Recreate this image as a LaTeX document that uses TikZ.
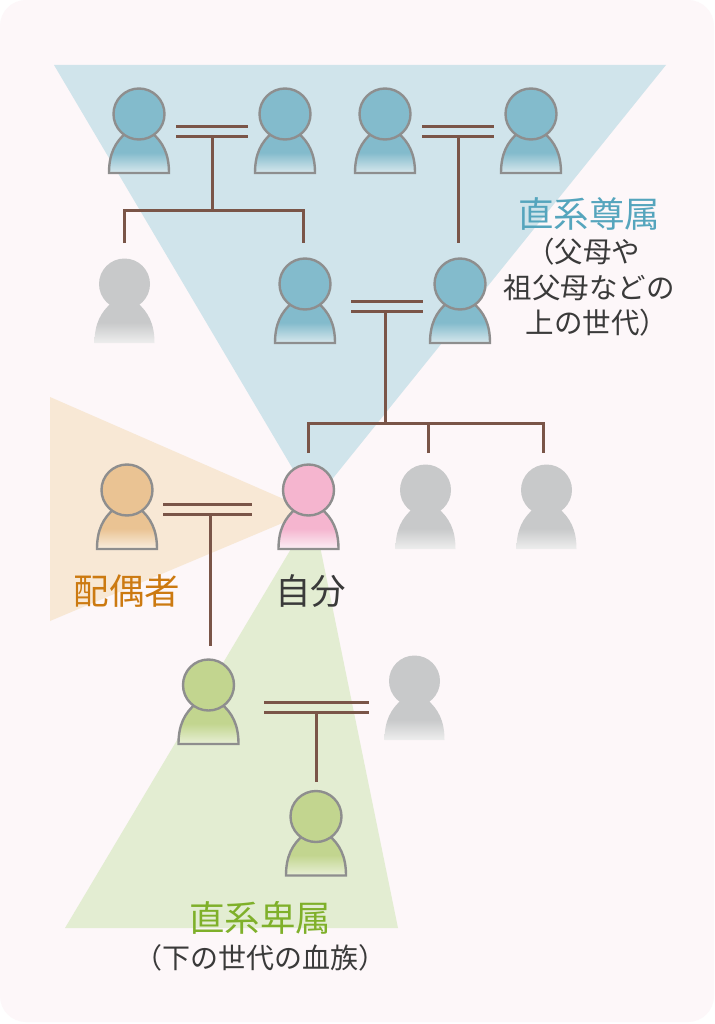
\documentclass[tikz,border=0pt]{standalone}
\usepackage{fontspec}
\setmainfont{Noto Sans CJK JP}
\definecolor{pagebg}{HTML}{FDF7F9}
\definecolor{tribl}{HTML}{D0E4EB}
\definecolor{triog}{HTML}{F8E8D5}
\definecolor{trigr}{HTML}{E3EDD2}
\definecolor{linebr}{HTML}{7A5548}
\definecolor{edgeg}{HTML}{8E8E8E}
\definecolor{headbl}{HTML}{83BBCC}
\definecolor{headog}{HTML}{EAC393}
\definecolor{headpk}{HTML}{F5B5CF}
\definecolor{headgr}{HTML}{C2D58F}
\definecolor{headgy}{HTML}{C8C9CA}
\definecolor{palebl}{HTML}{D8E8ED}
\definecolor{paleog}{HTML}{F9EEDF}
\definecolor{palepk}{HTML}{FBEFF5}
\definecolor{palegr}{HTML}{E8F0D6}
\definecolor{palegy}{HTML}{EEEEEE}
\definecolor{labbl}{HTML}{55A5BD}
\definecolor{labog}{HTML}{CC7A11}
\definecolor{labgr}{HTML}{7FB02A}
\definecolor{labdk}{HTML}{3A3A3A}
\pgfdeclareverticalshading{bodybl}{100bp}{color(0bp)=(palebl);color(25bp)=(palebl);color(50bp)=(headbl);color(100bp)=(headbl)}
\pgfdeclareverticalshading{bodyog}{100bp}{color(0bp)=(paleog);color(25bp)=(paleog);color(50bp)=(headog);color(100bp)=(headog)}
\pgfdeclareverticalshading{bodypk}{100bp}{color(0bp)=(palepk);color(25bp)=(palepk);color(50bp)=(headpk);color(100bp)=(headpk)}
\pgfdeclareverticalshading{bodygr}{100bp}{color(0bp)=(palegr);color(25bp)=(palegr);color(50bp)=(headgr);color(100bp)=(headgr)}
\pgfdeclareverticalshading{bodygy}{100bp}{color(0bp)=(palegy);color(25bp)=(palegy);color(50bp)=(headgy);color(100bp)=(headgy)}
\tikzset{
  wire/.style={draw=linebr,line width=3pt},
  outlined/.style={draw=edgeg,line width=2.4pt},
  headnode/.style={circle,inner sep=0pt,minimum size=51pt},
  bigtext/.style={font=\fontsize{35.5}{40}\selectfont,inner sep=0pt},
  smalltext/.style={text=labdk,font=\fontsize{28.5}{35.5}\selectfont,inner sep=0pt,align=center},
}
% name, x, y of head centre, colour key, outline style
\newcommand{\personfig}[5]{%
  \path[shading=body#4,#5] (#2-30,#3+59) .. controls (#2-30,#3+40) and (#2-24,#3+28) .. (#2-12,#3+18)
    -- (#2+12,#3+18) .. controls (#2+24,#3+28) and (#2+30,#3+40) .. (#2+30,#3+59) -- cycle;
  \node[headnode,fill=head#4,#5] (#1) at (#2,#3) {};
}
\begin{document}
\begin{tikzpicture}[x=1pt,y=-1pt]
\useasboundingbox (0,0) rectangle (714,1024);
\fill[white] (0,0) rectangle (714,1024);
\fill[pagebg,rounded corners=26pt] (0,0) rectangle (714,1022);
% triangles
\fill[tribl] (54,65) -- (666,65) -- (313,503) -- cycle;
\fill[triog] (50,397) -- (311,511) -- (50,621) -- cycle;
\fill[trigr] (313,512) -- (398,928) -- (65,928) -- cycle;
% couple and child lines
\coordinate (ca1) at (176,127); \coordinate (ca2) at (248,127);
\coordinate (cb1) at (176,137); \coordinate (cb2) at (248,137);
\coordinate (cs) at (212,137); \coordinate (cj) at (212,211);
\coordinate (cl) at (124.5,243); \coordinate (cr) at (303,243);
\draw[wire] (ca1) -- (ca2); \draw[wire] (cb1) -- (cb2);
\draw[wire] (cs) -- (cj);
\draw[wire] (cl) |- (cj) -| (cr);
\coordinate (da1) at (422,127); \coordinate (da2) at (494,127);
\coordinate (db1) at (422,137); \coordinate (db2) at (494,137);
\coordinate (ds) at (458,137); \coordinate (de) at (458,243);
\draw[wire] (da1) -- (da2); \draw[wire] (db1) -- (db2);
\draw[wire] (ds) -- (de);
\coordinate (ea1) at (351,301); \coordinate (ea2) at (423,301);
\coordinate (eb1) at (351,311); \coordinate (eb2) at (423,311);
\coordinate (es) at (385,311); \coordinate (ej) at (385,423);
\coordinate (el) at (308,453); \coordinate (em) at (428,453); \coordinate (er) at (543,453);
\draw[wire] (ea1) -- (ea2); \draw[wire] (eb1) -- (eb2);
\draw[wire] (es) -- (ej);
\draw[wire] (el) |- (er |- ej) -- (er);
\draw[wire] (em) -- (em |- ej);
\coordinate (fa1) at (163,504); \coordinate (fa2) at (252,504);
\coordinate (fb1) at (163,514.5); \coordinate (fb2) at (252,514.5);
\coordinate (fs) at (210.5,514.5); \coordinate (fe) at (210.5,646);
\draw[wire] (fa1) -- (fa2); \draw[wire] (fb1) -- (fb2);
\draw[wire] (fs) -- (fe);
\coordinate (ga1) at (264,702); \coordinate (ga2) at (369,702);
\coordinate (gb1) at (264,712); \coordinate (gb2) at (369,712);
\coordinate (gs) at (316,712); \coordinate (ge) at (316,782);
\draw[wire] (ga1) -- (ga2); \draw[wire] (gb1) -- (gb2);
\draw[wire] (gs) -- (ge);
% people
\personfig{pa}{139}{114}{bl}{outlined}
\personfig{pb}{285}{114}{bl}{outlined}
\personfig{pc}{385}{114}{bl}{outlined}
\personfig{pd}{531}{114}{bl}{outlined}
\personfig{pe}{124.5}{284}{gy}{}
\personfig{pf}{305}{284}{bl}{outlined}
\personfig{pg}{460}{284}{bl}{outlined}
\personfig{ph}{127}{490}{og}{outlined}
\personfig{pi}{308.5}{490}{pk}{outlined}
\personfig{pj}{425.5}{490}{gy}{}
\personfig{pk}{546.5}{490}{gy}{}
\personfig{pl}{208.5}{685}{gr}{outlined}
\personfig{pm}{414.5}{681}{gy}{}
\personfig{pn}{316}{816.5}{gr}{outlined}
% labels
\node[bigtext,text=labbl] (ta) at (589,214) {直系尊属};
\node[smalltext] (tb) at (589,287.5) {（父母や\hspace*{12pt}\\祖父母などの\\\hspace*{16pt}上の世代）};
\node[bigtext,text=labog] (tc) at (127,591) {配偶者};
\node[bigtext,text=labdk] (td) at (310.5,591) {自分};
\node[bigtext,text=labgr] (te) at (260,918) {直系卑属};
\node[text=labdk,inner sep=0pt,font=\fontsize{28}{30}\selectfont] (tf) at (260,958) {（下の世代の血族）};
\end{tikzpicture}
\end{document}
